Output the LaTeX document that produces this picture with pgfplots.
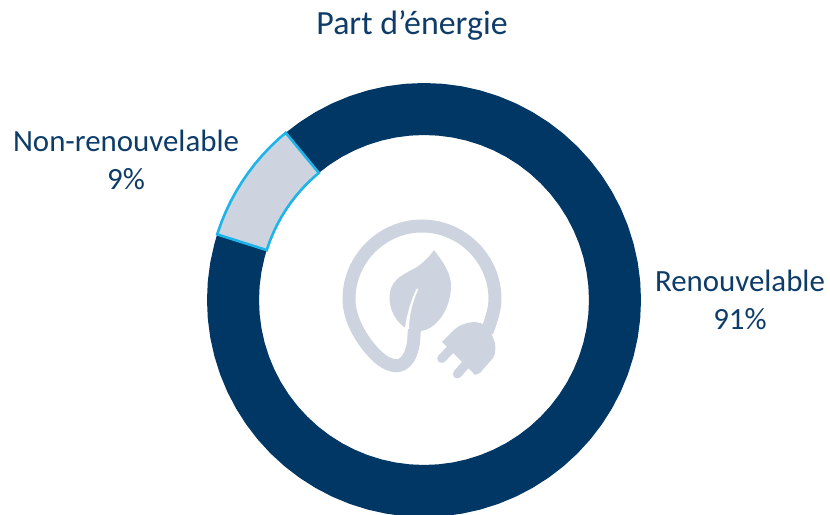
\documentclass[border=0pt]{standalone}
\usepackage{pgfplots}
\pgfplotsset{compat=1.18}
\usepackage{fontspec}
\setmainfont{Carlito}
\definecolor{navy}{HTML}{003764}
\definecolor{txt}{HTML}{0E3C69}
\definecolor{lite}{HTML}{CDD4DF}
\definecolor{cyanb}{HTML}{1EB4EA}
\begin{document}
\begin{tikzpicture}
\path[use as bounding box] (0,0) rectangle (830bp,515bp);
\begin{axis}[
  at={(0,0)}, anchor=south west,
  scale only axis, width=830bp, height=515bp,
  xmin=-424, xmax=406, ymin=-215, ymax=300,
  hide axis, clip=true]
% Renouvelable 91 % : theta, ring radius
\addplot[data cs=polar, no marks, navy, line width=52bp, line cap=butt, line join=round] coordinates {
(162.4,191)(165,191)(170,191)(175,191)(180,191)(185,191)(190,191)(195,191)(200,191)(205,191)(210,191)(215,191)(220,191)(225,191)(230,191)(235,191)(240,191)(245,191)(250,191)(255,191)(260,191)(265,191)(270,191)(275,191)(280,191)(285,191)(290,191)(295,191)(300,191)(305,191)(310,191)(315,191)(320,191)(325,191)(330,191)(335,191)(340,191)(345,191)(350,191)(355,191)(360,191)(365,191)(370,191)(375,191)(380,191)(385,191)(390,191)(395,191)(400,191)(405,191)(410,191)(415,191)(420,191)(425,191)(430,191)(435,191)(440,191)(445,191)(450,191)(455,191)(460,191)(465,191)(470,191)(475,191)(480,191)(485,191)(489.6,191)};
% Non-renouvelable 9 %
\addplot[data cs=polar, no marks, draw=cyanb, fill=lite, line width=2.6bp, line join=miter] coordinates {
(129.6,217)(132,217)(135,217)(138,217)(141,217)(144,217)(147,217)(150,217)(153,217)(156,217)(159,217)(162.4,217)
(162.4,165)(159,165)(156,165)(153,165)(150,165)(147,165)(144,165)(141,165)(138,165)(135,165)(132,165)(129.6,165)} -- cycle;
\end{axis}
% centre icon, in pixels of the reference
\begin{scope}[x=1bp,y=-1bp,shift={(0bp,515bp)}]
  % cord
  \draw[lite,line width=13bp,line cap=butt]
    (487,332) .. controls (492,318) and (495,308) .. (495,299)
    .. controls (495,259) and (462,226) .. (422,226)
    .. controls (382,226) and (349,259) .. (349,299)
    .. controls (349,322) and (365,345) .. (378,357)
    .. controls (388,366) and (398,368) .. (404,363)
    .. controls (411,358) and (414,345) .. (414,335)
    -- (415,322);
  % leaf
  \fill[lite] (434,250) .. controls (444,263) and (452,275) .. (451,288)
    .. controls (450,310) and (436,330) .. (420,331)
    -- (404,327) .. controls (392,318) and (388,303) .. (390,293)
    .. controls (392,278) and (405,274) .. (417,267)
    .. controls (424,262) and (430,256) .. (434,250) -- cycle;
  \fill[white] (418.5,289) .. controls (413,300) and (409,315) .. (409,329)
    -- (405,328) .. controls (407,313) and (412,298) .. (416.5,289) -- cycle;
  % plug body
  \fill[lite] (442,342) -- (455,329) .. controls (462,323) and (475,320) .. (483,324)
    -- (490,330) -- (495,343) .. controls (496,350) and (495,355) .. (493,358)
    -- (480,373) -- (475,375) -- cycle;
  % prongs
  \draw[lite,line width=9bp,line cap=round] (452,348) -- (441.7,358.5);
  \draw[lite,line width=9bp,line cap=round] (468,362) -- (457.3,374);
\end{scope}
\node[anchor=base,text=txt,inner sep=0pt,font=\fontsize{34}{40}\selectfont] at (412bp,480bp) {Part d’énergie};
\node[anchor=base,text=txt,inner sep=0pt,font=\fontsize{31}{36}\selectfont] at (126bp,363bp) {Non-renouvelable};
\node[anchor=base,text=txt,inner sep=0pt,font=\fontsize{31}{36}\selectfont] at (126bp,325bp) {9\%};
\node[anchor=base,text=txt,inner sep=0pt,font=\fontsize{31}{36}\selectfont] at (740bp,223bp) {Renouvelable};
\node[anchor=base,text=txt,inner sep=0pt,font=\fontsize{31}{36}\selectfont] at (740bp,185bp) {91\%};
\end{tikzpicture}
\end{document}
